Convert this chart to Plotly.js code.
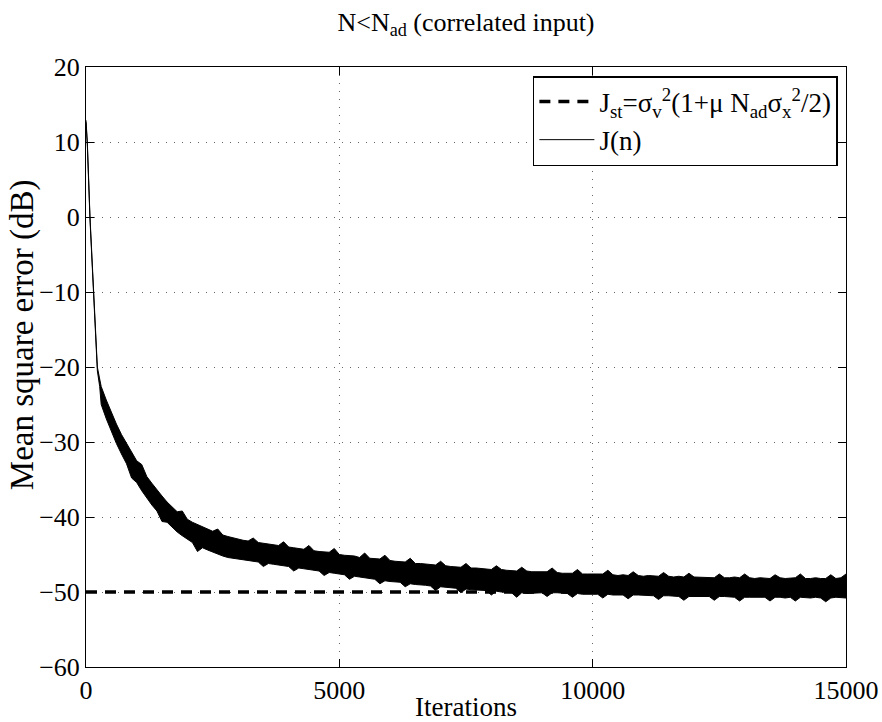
<!DOCTYPE html>
<html>
<head>
<meta charset="utf-8">
<script src="https://cdn.plot.ly/plotly-3.0.1.min.js"></script>
<style>html,body{margin:0;padding:0;background:#fff;}#chart{width:882px;height:722px;}</style>
</head>
<body>
<div id="chart"></div>
<script>
// Iteration index (x) and the upper / lower edge of the noisy J(n) band (dB)
const iterations = [0,26,79,145,224,270,
 300,400,500,600,700,800,900,1000,1100,1200,1300,1400,1500,1600,1700,1800,1900,2000,
 2100,2200,2300,2400,2500,2600,2700,2800,2900,3000,3100,3200,3300,3400,3500,3600,3700,3800,3900,4000,
 4100,4200,4300,4400,4500,4600,4700,4800,4900,5000,5100,5200,5300,5400,5500,5600,5700,5800,5900,6000,
 6100,6200,6300,6400,6500,6600,6700,6800,6900,7000,7100,7200,7300,7400,7500,7600,7700,7800,7900,8000,
 8100,8200,8300,8400,8500,8600,8700,8800,8900,9000,9100,9200,9300,9400,9500,9600,9700,9800,9900,10000,
 10100,10200,10300,10400,10500,10600,10700,10800,10900,11000,11100,11200,11300,11400,11500,11600,11700,11800,11900,12000,
 12100,12200,12300,12400,12500,12600,12700,12800,12900,13000,13100,13200,13300,13400,13500,13600,13700,13800,13900,14000,
 14100,14200,14300,14400,14500,14600,14700,14800,14900,15000];

const jUpper = [12.9,10.0,0.0,-10.0,-20.0,-21.6,
 -22.6,-24.4,-26.1,-27.6,-29.0,-30.2,-31.4,-32.5,-33.0,-34.6,-35.5,-36.4,-37.2,-38.0,-38.7,-39.3,-39.2,-40.3,
 -40.7,-41.0,-41.3,-41.6,-41.9,-41.6,-42.4,-42.6,-42.8,
 -43.0,-43.1,-43.2,-42.8,-43.4,-43.5,-43.6,-43.6,-43.8,-43.3,
 -44.0,-44.1,-44.2,-44.3,-43.8,-44.5,-44.6,-44.7,-44.7,-44.2,
 -45.0,-45.1,-45.1,-45.2,-45.4,-44.8,-45.5,-45.6,-45.6,-45.1,
 -45.8,-45.9,-46.0,-46.0,-45.5,-46.2,-46.2,-46.3,-46.4,-46.4,
 -45.9,-46.5,-46.6,-46.6,-46.7,-46.2,-46.8,-46.8,-46.9,-46.9,
 -47.0,-46.5,-47.0,-47.1,-47.1,-47.2,-46.7,-47.2,-47.3,-47.3,
 -47.4,-47.3,-46.8,-47.4,-47.5,-47.5,-47.5,-47.0,-47.6,-47.6,
 -47.6,-47.7,-47.6,-47.1,-47.7,-47.8,-47.7,-47.8,-47.3,-47.8,
 -47.9,-47.8,-47.9,-47.9,-47.4,-47.9,-48.0,-47.9,-48.0,-47.5,
 -48.0,-48.0,-48.1,-48.0,-48.1,-47.6,-48.1,-48.1,-48.0,-48.1,
 -47.6,-48.1,-48.2,-48.1,-48.1,-48.2,-47.7,-48.1,-48.2,-48.2,
 -48.1,-47.6,-48.2,-48.2,-48.1,-48.2,-48.2,-47.7,-48.2,-48.1,
 -47.6];

const jLower = [12.6,9.6,-0.4,-10.4,-20.5,-22.6,
 -25.0,-26.9,-28.6,-30.2,-31.6,-32.9,-34.8,-35.4,-36.5,-37.5,-38.4,-39.2,-40.6,-40.7,-41.4,-42.0,-42.5,-43.0,
 -43.4,-44.6,-44.1,-44.4,-44.7,-45.0,-45.2,-45.4,-45.5,
 -45.6,-45.7,-45.8,-45.9,-46.0,-46.6,-46.2,-46.3,-46.4,-46.5,
 -46.6,-47.2,-46.8,-46.9,-47.0,-47.1,-47.2,-47.8,-47.4,-47.5,
 -47.6,-47.7,-48.3,-47.9,-48.0,-48.1,-48.2,-48.3,-48.9,-48.5,
 -48.6,-48.7,-48.7,-49.3,-48.9,-49.0,-49.0,-49.1,-49.2,-49.8,
 -49.3,-49.4,-49.4,-49.5,-50.1,-49.6,-49.7,-49.7,-49.8,-49.8,
 -50.4,-49.9,-50.0,-50.0,-50.1,-50.7,-50.1,-50.2,-50.2,-50.2,
 -50.1,-50.6,-50.1,-50.1,-50.2,-50.2,-50.7,-50.2,-50.3,-50.3,
 -50.3,-50.3,-50.8,-50.3,-50.4,-50.4,-50.4,-50.9,-50.4,-50.4,
 -50.4,-50.5,-50.5,-51.0,-50.5,-50.5,-50.5,-50.6,-51.1,-50.6,
 -50.6,-50.6,-50.6,-50.6,-51.1,-50.6,-50.6,-50.7,-50.7,-51.2,
 -50.7,-50.7,-50.7,-50.7,-50.7,-51.2,-50.7,-50.7,-50.8,-50.7,
 -51.2,-50.7,-50.8,-50.8,-50.7,-50.8,-51.3,-50.8,-50.7,-50.8,
 -50.8];

const steadyIterations = [0, 15000];
const steadyJ = [-50, -50];

const xTicks = [0, 5000, 10000, 15000];
const yTicks = [-60, -50, -40, -30, -20, -10, 0, 10, 20];

const serif = '"Liberation Serif", "Times New Roman", Times, serif';

const traces = [
  {x: steadyIterations, y: steadyJ, mode: 'lines', type: 'scatter',
   name: 'J<sub>st</sub>=σ<sub>v</sub><sup>2</sup>(1+μ N<sub>ad</sub>σ<sub>x</sub><sup>2</sup>/2)',
   line: {color: '#000', width: 3.5, dash: '11px,8px'}},
  {x: iterations, y: jUpper, mode: 'lines', type: 'scatter', name: 'J(n)',
   line: {color: '#000', width: 1}},
  {x: iterations, y: jLower, mode: 'lines', type: 'scatter', name: 'J(n) lower', showlegend: false,
   fill: 'tonexty', fillcolor: '#000', line: {color: '#000', width: 1}}
];

const axisCommon = {
  showline: true, mirror: 'allticks', linecolor: '#000', linewidth: 1,
  ticks: 'inside', ticklen: 8, tickcolor: '#000', tickwidth: 1,
  showgrid: true, gridcolor: '#666', gridwidth: 1, griddash: '1px,7px',
  zeroline: false, tickfont: {family: serif, size: 26, color: '#000'}
};

const layout = {
  width: 882, height: 722,
  margin: {l: 86, r: 36, t: 67, b: 55},
  paper_bgcolor: '#fff', plot_bgcolor: '#fff',
  font: {family: serif, color: '#000', size: 26},
  title: {text: 'N&lt;N<sub>ad</sub> (correlated input)', x: 0.5, xref: 'paper', y: 0.97, yanchor: 'middle',
          font: {family: serif, size: 26, color: '#000'}},
  xaxis: Object.assign({}, axisCommon, {
    range: [0, 15000], tickvals: xTicks, ticktext: xTicks.map(String),
    title: {text: 'Iterations', standoff: 0, font: {family: serif, size: 27, color: '#000'}}
  }),
  yaxis: Object.assign({}, axisCommon, {
    range: [-60, 20], tickvals: yTicks
  }),
  annotations: [{
    text: 'Mean square error (dB)', textangle: -90, showarrow: false,
    xref: 'paper', yref: 'paper', x: -0.0842, y: 0.553, xanchor: 'center', yanchor: 'middle',
    font: {family: serif, size: 33, color: '#000'}
  }],
  showlegend: true,
  legend: {x: 0.588, y: 0.985, xanchor: 'left', yanchor: 'top', traceorder: 'normal',
           bgcolor: '#fff', bordercolor: '#000', borderwidth: 1.5,
           itemwidth: 55, font: {family: serif, size: 27, color: '#000'}}
};

Plotly.newPlot('chart', traces, layout, {displayModeBar: false, staticPlot: true});
</script>
</body>
</html>
